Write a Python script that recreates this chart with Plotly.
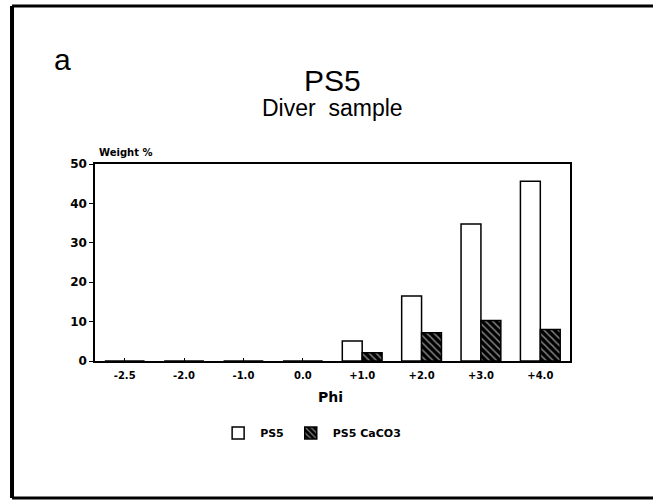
import plotly.graph_objects as go

categories = ["-2.5", "-2.0", "-1.0", "0.0", "+1.0", "+2.0", "+3.0", "+4.0"]
ps5 = [0, 0, 0, 0, 5.1, 16.5, 34.8, 45.6]
ps5_caco3 = [0, 0, 0, 0, 2.1, 7.2, 10.3, 8.0]
y_ticks = [0, 10, 20, 30, 40, 50]

FONT = "Liberation Sans, Arial, Helvetica, sans-serif"
BOLD = "DejaVu Sans, Arial, sans-serif"

fig = go.Figure()
fig.add_trace(go.Bar(
    x=categories, y=ps5, name="PS5",
    marker=dict(color="white", line=dict(color="black", width=1.5)),
))
fig.add_trace(go.Bar(
    x=categories, y=ps5_caco3, name="PS5 CaCO3",
    marker=dict(color="black", line=dict(color="black", width=1.5),
                pattern=dict(shape="\\", fgcolor="white", bgcolor="black",
                             size=5, solidity=0.3)),
))

fig.update_layout(
    width=653, height=501,
    margin=dict(l=95, r=83, t=164, b=140),
    paper_bgcolor="white", plot_bgcolor="white",
    barmode="group", bargap=0.33, bargroupgap=0,
    font=dict(family=FONT, color="black"),
    showlegend=True,
    legend=dict(orientation="h", x=0.455, y=-0.365, xanchor="center", yanchor="middle",
                font=dict(size=11, family=BOLD, weight="bold"), itemwidth=34,
                bgcolor="rgba(0,0,0,0)"),
    xaxis=dict(type="category", categoryorder="array", categoryarray=categories,
               range=[-0.5, 7.5], showline=True, linecolor="black", linewidth=1.5,
               mirror=True, ticks="inside", ticklen=3, tickcolor="black",
               ticklabelstandoff=4,
               tickfont=dict(size=10, family=BOLD, weight="bold"), showgrid=False),
    yaxis=dict(range=[0, 50], tickvals=y_ticks, showline=True, linecolor="black",
               linewidth=1.5, mirror=True, ticks="outside", ticklen=4, tickcolor="black",
               tickfont=dict(size=12, family=BOLD, weight="bold"), showgrid=False,
               zeroline=False),
)

annotations = [
    dict(text="a", x=-0.069, y=1.528, font=dict(size=30, family=FONT)),
    dict(text="PS5", x=0.5, y=1.426, font=dict(size=30, family=FONT)),
    dict(text="Diver  sample", x=0.5, y=1.284, font=dict(size=23, family=FONT)),
    dict(text="Weight %", x=0.004, y=1.056, xanchor="left", font=dict(size=10, family=BOLD, weight="bold")),
    dict(text="Phi", x=0.495, y=-0.183, font=dict(size=14, family=BOLD, weight="bold")),
]
for a in annotations:
    a.setdefault("xanchor", "center")
    fig.add_annotation(xref="paper", yref="paper", yanchor="middle", showarrow=False, **a)

# outer frame (left, top, bottom)
left, right, top, bottom = -0.1747, 1.175, 1.802, -0.695
fig.add_shape(type="line", xref="paper", yref="paper", x0=left, x1=left, y0=bottom, y1=top,
              line=dict(color="black", width=4))
fig.add_shape(type="line", xref="paper", yref="paper", x0=left, x1=right, y0=top, y1=top,
              line=dict(color="black", width=3))
fig.add_shape(type="line", xref="paper", yref="paper", x0=left, x1=right, y0=bottom, y1=bottom,
              line=dict(color="black", width=3))

fig.write_html("out.html", config={"displayModeBar": False},
               post_script="document.body.style.margin='0px';document.body.style.overflow='hidden';")
